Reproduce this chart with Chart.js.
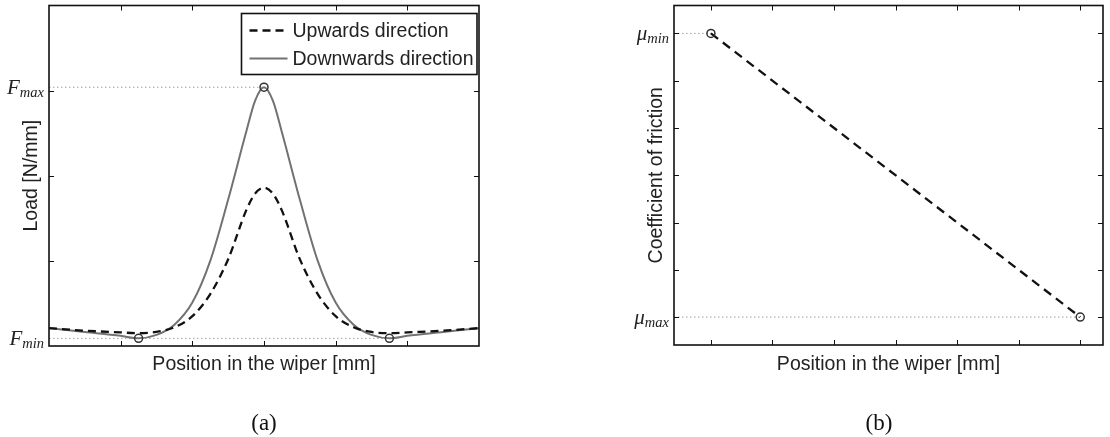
<!DOCTYPE html>
<html lang="en">
<head>
<meta charset="UTF-8" />
<title>Wiper load and friction</title>
<script src="https://cdn.jsdelivr.net/npm/chart.js"></script>
<style>
  body { margin: 0; background: #fff; }
  canvas { position: absolute; top: 0; }
</style>
</head>
<body>
<canvas id="graficoCarga" width="555" height="437" style="left:0"></canvas>
<canvas id="graficoAtrito" width="555" height="437" style="left:555px"></canvas>
<script>
// (a) load along the wiper
const posicao = [0, 0.5, 1, 1.25, 1.5, 1.75, 2, 2.25, 2.5, 2.75, 2.875, 3, 3.125, 3.25, 3.5, 3.75, 4, 4.25, 4.5, 4.75, 5, 5.5, 6];
const cargaSubida = [0.21, 0.18, 0.16, 0.15, 0.165, 0.22, 0.35, 0.61, 1.02, 1.59, 1.79, 1.86, 1.79, 1.59, 1.02, 0.61, 0.35, 0.22, 0.165, 0.15, 0.16, 0.18, 0.21];
const cargaDescida = [0.21, 0.165, 0.12, 0.09, 0.13, 0.25, 0.51, 1.00, 1.72, 2.51, 2.88, 3.04, 2.88, 2.51, 1.72, 1.00, 0.51, 0.25, 0.13, 0.09, 0.12, 0.165, 0.21];
const ticksXCarga = [1, 2, 3, 4, 5];
const ticksYCarga = [1, 2, 3];
const nomesSeries = ['Upwards direction', 'Downwards direction'];

// (b) friction coefficient, linear between the two ends
const posicaoAtrito = [0, 6];
const atrito = [6, 0];
const ticksXAtrito = [0, 1, 2, 3, 4, 5, 6];
const ticksYAtrito = [0, 1, 2, 3, 4, 5, 6];

const fMax = Math.max(...cargaDescida);
const fMin = Math.min(...cargaDescida);
const iPico = cargaDescida.indexOf(fMax);
const iMin1 = cargaDescida.indexOf(fMin);
const iMin2 = cargaDescida.lastIndexOf(fMin);

const pontos = (xs, ys) => xs.map((x, i) => ({ x: x, y: ys[i] }));

const moldura = {
  id: 'moldura',
  afterDatasetsDraw(chart, args, o) {
    const { ctx, chartArea: a, scales: { x, y } } = chart;
    ctx.save();
    ctx.strokeStyle = '#111';
    ctx.lineWidth = 1;
    o.xTicks.forEach(v => {
      const px = Math.round(x.getPixelForValue(v)) + 0.5;
      ctx.beginPath();
      ctx.moveTo(px, a.bottom); ctx.lineTo(px, a.bottom - 5);
      ctx.moveTo(px, a.top); ctx.lineTo(px, a.top + 5);
      ctx.stroke();
    });
    o.yTicks.forEach(v => {
      const py = Math.round(y.getPixelForValue(v)) + 0.5;
      ctx.beginPath();
      ctx.moveTo(a.left, py); ctx.lineTo(a.left + 5, py);
      ctx.moveTo(a.right, py); ctx.lineTo(a.right - 5, py);
      ctx.stroke();
    });
    ctx.lineWidth = 1.6;
    ctx.strokeRect(a.left, a.top, a.right - a.left, a.bottom - a.top);

    ctx.fillStyle = '#222';
    ctx.font = '19.5px "Liberation Sans", Arial, sans-serif';
    ctx.textAlign = 'center';
    ctx.textBaseline = 'alphabetic';
    ctx.fillText(o.xTitle, (a.left + a.right) / 2, 370);
    ctx.save();
    ctx.translate(o.yTitleX, (a.top + a.bottom) / 2);
    ctx.rotate(-Math.PI / 2);
    ctx.fillText(o.yTitle, 0, 0);
    ctx.restore();

    // math style tick labels (symbol + subscript)
    o.yLabels.forEach(l => {
      const py = y.getPixelForValue(l.value);
      const dir = a.left - 5;
      ctx.textAlign = 'right';
      ctx.font = 'italic 14.5px "Liberation Serif", serif';
      ctx.fillText(l.sub, dir, py + 10);
      const w = ctx.measureText(l.sub).width;
      ctx.font = 'italic 21px "Liberation Serif", serif';
      ctx.fillText(l.main, dir - w, py + 7);
    });

    ctx.fillStyle = '#111';
    ctx.textAlign = 'center';
    ctx.font = '23px "Liberation Serif", serif';
    ctx.fillText(o.caption, o.captionX, 430);
    ctx.restore();
  }
};

const caixaLegenda = {
  id: 'caixaLegenda',
  afterDraw(chart, args, o) {
    if (!o.show) return;
    const ctx = chart.ctx;
    const itens = chart.data.datasets.filter(d => d.naLegenda);
    ctx.save();
    ctx.fillStyle = '#fff';
    ctx.fillRect(o.x, o.y, o.w, o.h);
    ctx.strokeStyle = '#111';
    ctx.lineWidth = 1.6;
    ctx.strokeRect(o.x, o.y, o.w, o.h);
    itens.forEach((d, i) => {
      const cy = o.y + 17 + i * 28;
      ctx.strokeStyle = d.borderColor;
      ctx.lineWidth = d.borderWidth;
      ctx.setLineDash(d.borderDash || []);
      ctx.beginPath();
      ctx.moveTo(o.x + 8, cy); ctx.lineTo(o.x + 46, cy);
      ctx.stroke();
      ctx.setLineDash([]);
      ctx.fillStyle = '#222';
      ctx.font = '19.5px "Liberation Sans", Arial, sans-serif';
      ctx.textBaseline = 'middle';
      ctx.textAlign = 'left';
      ctx.fillText(d.label, o.x + 51, cy + 1);
    });
    ctx.restore();
  }
};

const pontilhado = { borderColor: '#a0a0a0', borderWidth: 1, borderDash: [1.5, 2.5], pointRadius: 0, order: 5 };
const marcador = { showLine: false, pointRadius: 4, pointBorderColor: '#333', pointBackgroundColor: 'rgba(0,0,0,0)', pointBorderWidth: 1.5, order: 0 };

function opcoes(xMin, xMax, yMin, yMax, pad, moldOpts, legOpts) {
  return {
    responsive: false,
    animation: false,
    devicePixelRatio: 1,
    layout: { padding: pad },
    scales: {
      x: { type: 'linear', min: xMin, max: xMax, display: false },
      y: { type: 'linear', min: yMin, max: yMax, display: false }
    },
    plugins: {
      legend: { display: false },
      tooltip: { enabled: false },
      moldura: moldOpts,
      caixaLegenda: legOpts
    }
  };
}

new Chart(document.getElementById('graficoCarga'), {
  type: 'line',
  data: {
    datasets: [
      Object.assign({ data: [{ x: 0, y: fMax }, { x: posicao[iPico], y: fMax }] }, pontilhado),
      Object.assign({ data: [{ x: 0, y: fMin }, { x: posicao[iMin2], y: fMin }] }, pontilhado),
      {
        label: nomesSeries[0], naLegenda: true,
        data: pontos(posicao, cargaSubida),
        borderColor: '#111', borderWidth: 2.3, borderDash: [8, 5], pointRadius: 0,
        cubicInterpolationMode: 'monotone', order: 1
      },
      {
        label: nomesSeries[1], naLegenda: true,
        data: pontos(posicao, cargaDescida),
        borderColor: '#727272', borderWidth: 2, pointRadius: 0,
        cubicInterpolationMode: 'monotone', order: 2
      },
      Object.assign({
        data: [iMin1, iPico, iMin2].map(i => ({ x: posicao[i], y: cargaDescida[i] })),
        clip: false
      }, marcador)
    ]
  },
  options: opcoes(0, 6, 0, 4, { left: 49, top: 5, right: 76, bottom: 91 }, {
    xTicks: ticksXCarga, yTicks: ticksYCarga,
    xTitle: 'Position in the wiper [mm]', yTitle: 'Load [N/mm]', yTitleX: 37,
    yLabels: [{ value: fMax, main: 'F', sub: 'max' }, { value: fMin, main: 'F', sub: 'min' }],
    caption: '(a)', captionX: 264
  }, { show: true, x: 241.5, y: 13.5, w: 235.5, h: 61 }),
  plugins: [moldura, caixaLegenda]
});

new Chart(document.getElementById('graficoAtrito'), {
  type: 'line',
  data: {
    datasets: [
      Object.assign({ data: [{ x: -0.6, y: atrito[0] }, { x: posicaoAtrito[0], y: atrito[0] }] }, pontilhado),
      Object.assign({ data: [{ x: -0.6, y: atrito[1] }, { x: posicaoAtrito[1], y: atrito[1] }] }, pontilhado),
      {
        data: pontos(posicaoAtrito, atrito),
        borderColor: '#111', borderWidth: 2.3, borderDash: [9, 6], pointRadius: 0, order: 1
      },
      Object.assign({ data: pontos(posicaoAtrito, atrito), clip: false }, marcador)
    ]
  },
  options: opcoes(-0.6, 6.37, -0.59, 6.59, { left: 119, top: 5, right: 7, bottom: 92 }, {
    xTicks: ticksXAtrito, yTicks: ticksYAtrito,
    xTitle: 'Position in the wiper [mm]', yTitle: 'Coefficient of friction', yTitleX: 107,
    yLabels: [{ value: atrito[0], main: 'μ', sub: 'min' }, { value: atrito[1], main: 'μ', sub: 'max' }],
    caption: '(b)', captionX: 324
  }, { show: false }),
  plugins: [moldura, caixaLegenda]
});
</script>
</body>
</html>
